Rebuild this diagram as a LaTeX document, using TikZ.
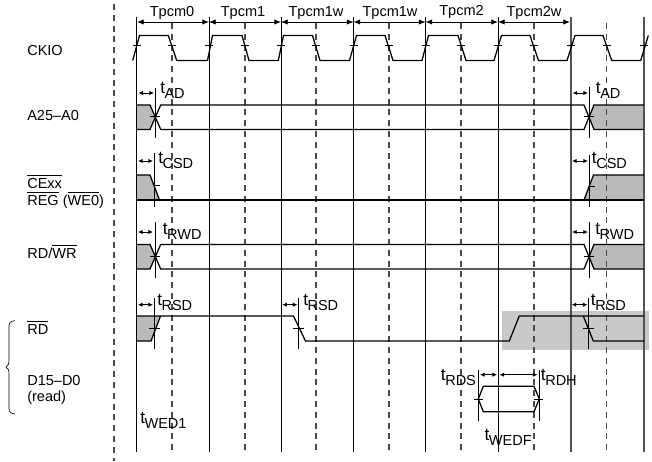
\documentclass[tikz,border=0pt]{standalone}
\usepackage{fontspec}
\setmainfont{Liberation Sans}
\usetikzlibrary{arrows.meta}
\definecolor{wavegray}{HTML}{B9BABB}
\definecolor{markgray}{HTML}{C8C9CA}
\definecolor{dashgray}{HTML}{4A4A4A}
\newcommand{\tsub}[1]{{\fontsize{13}{13}\selectfont t}\kern-.4pt\raisebox{-3.75pt}{#1}}
\newcommand{\ovl}[1]{\leavevmode\vbox{\hrule height .55pt \kern 1.9pt\hbox{#1}}}
\tikzset{
    sig/.style={line width=.95pt, line join=miter},
    grid/.style={line width=.6pt, black},
    griddash/.style={line width=.8pt, dashgray, dash pattern=on 4.5pt off 3.6pt},
    thin mark/.style={line width=.5pt},
    span/.style={line width=.6pt, {Latex[length=5pt,width=4pt]}-{Latex[length=5pt,width=4pt]}},
    delay/.style={line width=.6pt, {Latex[length=3.4pt,width=3.2pt]}-{Latex[length=3.4pt,width=3.2pt]}},
    siglabel/.style={anchor=base west, inner sep=0pt, font=\fontsize{10.9}{12}\selectfont},
    tlabel/.style={anchor=base west, inner sep=0pt, font=\fontsize{10.9}{12}\selectfont},
    phase/.style={anchor=base, inner sep=0pt, font=\fontsize{10.9}{12}\selectfont}
}
\begin{document}
\begin{tikzpicture}[x=.75pt, y=-.75pt]
    \useasboundingbox (0,0) rectangle (652,461);

    % Shaded area round the RD edge
    \fill[markgray] (502,311) rectangle (649,349.7);

    % Gray invalid regions
    \fill[wavegray] (136.5,105) -- (150,105) -- (155,117) -- (150,129.4) -- (136.5,129.4) -- cycle;
    \fill[wavegray] (589.3,117) -- (594,105) -- (644,105) -- (644,129.4) -- (594,129.4) -- cycle;
    \fill[wavegray] (136.5,175) -- (150,175) -- (159.5,200) -- (136.5,200) -- cycle;
    \fill[wavegray] (584,200) -- (593.5,175) -- (644,175) -- (644,200) -- cycle;
    \fill[wavegray] (136.5,244.4) -- (150,244.4) -- (155,256.6) -- (150,269) -- (136.5,269) -- cycle;
    \fill[wavegray] (589.3,256.6) -- (594,244.4) -- (644,244.4) -- (644,269) -- (594,269) -- cycle;
    \fill[wavegray] (136.5,316) -- (160.5,316) -- (151,341) -- (136.5,341) -- cycle;

    % Separator
    \draw[griddash] (114,4) -- (114,461);

    % Clock edges
    \foreach \x in {136.5,209,281,353.5,425.5,498}
        \draw[grid] (\x,17) -- (\x,451.5);
    \foreach \x in {172,245,316,389,461,534,606.5}
        \draw[griddash] (\x,23) -- (\x,451.5);
    \foreach \x in {571,644}
        \draw[line width=.8pt, black!68] (\x,17) -- (\x,451.5);

    % Cycle names
    \draw[span] (137,22) -- (209,22);
    \draw[span] (209,22) -- (281,22);
    \draw[span] (281,22) -- (353.5,22);
    \draw[span] (353.5,22) -- (425.5,22);
    \draw[span] (425.5,22) -- (498,22);
    \draw[span] (498,22) -- (570,22);
    \node[phase] (cyc0) at (172,16.7) {Tpcm0};
    \node[phase] (cyc1) at (243,16.7) {Tpcm1};
    \node[phase] (cyc2) at (316,16.7) {Tpcm1w};
    \node[phase] (cyc3) at (390,16.7) {Tpcm1w};
    \node[phase] (cyc4) at (461.5,15) {Tpcm2};
    \node[phase] (cyc5) at (534,16.7) {Tpcm2w};

    % CKIO
    \draw[sig] (132.7,60.5) -- (139.5,35.5) -- (168.3,35.5) -- (176.7,60.5)
        -- (207.5,60.5) -- (212.5,35.5) -- (242,35.5) -- (249,60.5)
        -- (278.3,60.5) -- (283.5,35.5) -- (312.5,35.5) -- (320,60.5)
        -- (349.5,60.5) -- (356.5,35.5) -- (385,35.5) -- (393,60.5)
        -- (422,60.5) -- (428.5,35.5) -- (458,35.5) -- (466,60.5)
        -- (494,60.5) -- (501.5,35.5) -- (530,35.5) -- (538.5,60.5)
        -- (567,60.5) -- (575,35.5) -- (603,35.5) -- (611.7,60.5)
        -- (640.7,60.5) -- (648.3,35.5);
    \foreach \x in {136.5,172,209,245,281,316,353.5,389,425.5,461,498,534,571,606.5,644}
        \draw[thin mark] (\x-4,45.5) -- (\x+4,45.5);

    % A25-A0
    \draw[sig] (136.5,105) -- (150,105) -- (160.7,129.4) -- (584,129.4) -- (594,105) -- (644,105);
    \draw[sig] (136.5,129.4) -- (150,129.4) -- (160.7,105) -- (584,105) -- (594,129.4) -- (644,129.4);
    \draw[thin mark] (155,88) -- (155,138);
    \draw[thin mark] (150,116.7) -- (160,116.7);
    \draw[thin mark] (589.3,87) -- (589.3,138);
    \draw[thin mark] (584.3,116.7) -- (594.3,116.7);
    \draw[delay] (138.5,93) -- (154,93);
    \draw[delay] (572.7,93) -- (588,93);
    \node[tlabel] (tad1) at (160,93.3) {\tsub{AD}};
    \node[tlabel] (tad2) at (595.7,93.3) {\tsub{AD}};

    % CExx
    \draw[sig] (136.5,175) -- (150,175) -- (159.5,200);
    \draw[sig] (136.5,200) -- (644,200);
    \draw[sig] (584,200) -- (593.5,175) -- (644,175);
    \draw[thin mark] (154,153) -- (154,207);
    \draw[thin mark] (154,185.5) -- (160,185.5);
    \draw[thin mark] (589,155) -- (589,207);
    \draw[thin mark] (589,186.5) -- (595,186.5);
    \draw[delay] (138,161) -- (153,161);
    \draw[delay] (572,161) -- (588,161);
    \node[tlabel] (tcsd1) at (158,163) {\tsub{CSD}};
    \node[tlabel] (tcsd2) at (591.7,163) {\tsub{CSD}};

    % RD/WR
    \draw[sig] (136.5,244.4) -- (150,244.4) -- (160.7,269) -- (584,269) -- (594,244.4) -- (644,244.4);
    \draw[sig] (136.5,269) -- (150,269) -- (160.7,244.4) -- (584,244.4) -- (594,269) -- (644,269);
    \draw[thin mark] (155,222) -- (155,278);
    \draw[thin mark] (150,256.3) -- (160,256.3);
    \draw[thin mark] (589.3,222) -- (589.3,278);
    \draw[thin mark] (584.3,256.3) -- (594.3,256.3);
    \draw[delay] (138,232) -- (153,232);
    \draw[delay] (572,232) -- (588,232);
    \node[tlabel] (trwd1) at (162.5,234) {\tsub{RWD}};
    \node[tlabel] (trwd2) at (595,234) {\tsub{RWD}};

    % RD
    \draw[sig] (136.5,316) -- (293.5,316) -- (305.5,341) -- (509.3,341) -- (519.3,316) -- (644,316);
    \draw[sig] (136.5,341) -- (151,341) -- (160.5,316);
    \draw[sig] (583.3,316) -- (593.3,341) -- (644,341);
    \foreach \x in {154,298.7,588.3}
        \draw[thin mark] (\x,298) -- (\x,349);
    \draw[thin mark] (149,328.3) -- (160,328.3);
    \draw[thin mark] (293,328.3) -- (304,328.3);
    \draw[thin mark] (583,328.3) -- (594,328.3);
    \draw[delay] (138,304.7) -- (153,304.7);
    \draw[delay] (282.3,304.7) -- (297.5,304.7);
    \draw[delay] (571.7,304.7) -- (587.5,304.7);
    \node[tlabel] (trsd1) at (157,305.7) {\tsub{RSD}};
    \node[tlabel] (trsd2) at (303,305.7) {\tsub{RSD}};
    \node[tlabel] (trsd3) at (590.7,305.7) {\tsub{RSD}};

    % D15-D0
    \draw[sig] (478.3,399) -- (483.3,386.3) -- (534,386.3) -- (539.3,399) -- (534,411.7) -- (483.3,411.7) -- cycle;
    \draw[thin mark] (478.3,370) -- (478.3,420.7);
    \draw[thin mark] (539,370) -- (539,420.7);
    \draw[thin mark] (474,399) -- (483,399);
    \draw[thin mark] (534,399) -- (543,399);
    \draw[delay] (480,374.7) -- (497,374.7);
    \draw[delay] (499.5,374.7) -- (537.5,374.7);
    \node[tlabel] (trds) at (440.7,380) {\tsub{RDS}};
    \node[tlabel] (trdh) at (540.7,380) {\tsub{RDH}};
    \node[tlabel] (twedf) at (484.3,440) {\tsub{WEDF}};
    \node[tlabel] (twed1) at (140,423) {\tsub{WED1}};

    % Brace
    \draw[line width=.5pt] (15,320.7) .. controls (11,321) and (9,322.5) .. (9,326)
        -- (9,360) .. controls (9,364) and (8,366) .. (6,367)
        .. controls (8,368) and (9,370) .. (9,374)
        -- (9,408.5) .. controls (9,412) and (11,413.7) .. (15,414);

    % Signal names
    \node[siglabel] (ckio) at (27,55) {CKIO};
    \node[siglabel] (addr) at (27,120.7) {A25–A0};
    \node[siglabel] (cexx) at (27,188.3) {\ovl{CExx}};
    \node[siglabel] (reg) at (27,205) {\ovl{REG} (\ovl{WE0})};
    \node[siglabel] (rdwr) at (27,258.3) {RD/\ovl{WR}};
    \node[siglabel] (rd) at (27,334) {\ovl{RD}};
    \node[siglabel] (data) at (27,385) {D15–D0};
    \node[siglabel] (read) at (27,401.7) {(read)};
\end{tikzpicture}
\end{document}
